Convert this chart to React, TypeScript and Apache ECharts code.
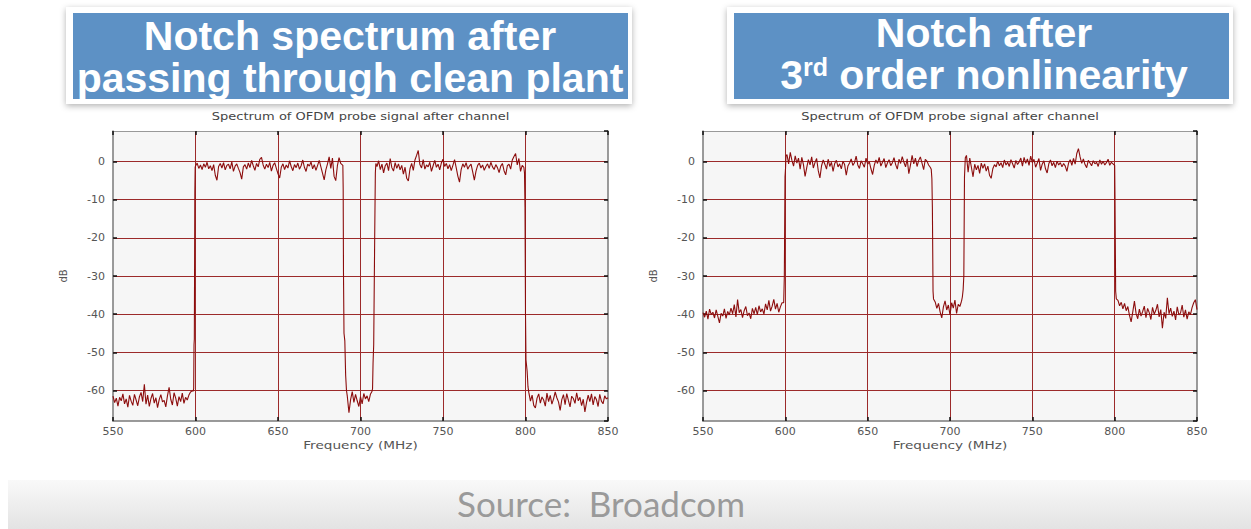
import React, { useEffect, useRef } from "react";
import * as echarts from "echarts";

// Axis ranges
const FREQ_MIN = 550;
const FREQ_MAX = 850;
const FREQ_STEP = 50;
const DB_MIN = -68;
const DB_MAX = 8;

const plotTitle = "Spectrum of OFDM probe signal after channel";
const xName = "Frequency (MHz)";
const yName = "dB";

// ---- Clean plant: measured dB at 1 MHz steps, with the filter edges as [MHz, dB] ----
const cleanLowStart = 550;
const cleanLowStop = [
  -61.5, -63.2, -62.0, -64.1, -61.8, -62.7, -60.9, -63.5, -62.2, -64.4,
  -61.3, -62.8, -63.9, -61.0, -62.5, -64.0, -61.7, -60.5, -62.9, -58.4,
  -63.6, -61.2, -64.2, -62.1, -60.8, -63.3, -61.9, -64.5, -62.4, -61.1,
  -63.0, -62.6, -64.3, -61.4, -59.2, -62.3, -63.8, -60.6, -62.0, -64.1,
  -61.6, -62.9, -60.7, -63.4, -61.8, -62.5, -61.2, -60.4, -60.1,
];
const cleanEdgeUpA: [number, number][] = [
  [598.6, -60.2], [598.9, -59.5], [599.1, -48], [599.3, -46.5], [599.6, -8], [599.8, -1.5],
];
const cleanBandAStart = 600;
const cleanBandA = [
  -1.2, -0.4, -1.8, -0.9, -2.1, -0.6, -1.5, -0.2, -1.9, -1.1,
  -2.4, -0.8, -3.6, -4.9, -1.3, -0.5, -1.7, -0.3, -2.2, -1.0,
  -0.7, -1.9, -0.1, -2.6, -1.2, -0.6, -1.8, -2.9, -4.6, -1.4,
  -0.8, -2.0, -0.4, -1.6, 0.3, -1.1, -2.3, -0.5, -1.4, 0.6,
  1.1, -0.9, -2.0, -0.7, -1.6, -0.2, -2.5, -1.0, -0.3, -1.8,
  -3.2, -4.3, -1.5, -0.6, -2.1, -0.9, -1.7, 0.2, -1.3, -2.4,
  -0.8, -1.6, -0.4, -2.0, -1.1, 0.4, -1.5, -2.6, -0.7, -1.2,
  -0.1, -1.9, -0.8, -2.3, -1.0, 0.3, -1.4, -3.1, -4.8, -2.2,
  -0.6, 1.2, -1.8, 0.9, -3.9, -5.0, -1.1, 1.0, -0.5,
];
const cleanEdgeDownA: [number, number][] = [
  [689.3, -1], [689.5, -7], [689.7, -30], [690.0, -45], [690.5, -47], [691.0, -56], [691.5, -60],
];
const cleanNotchStart = 692;
const cleanNotch = [
  -61.5, -65.8, -62.4, -60.3, -63.1, -61.0, -62.7, -64.2, -61.6, -63.5,
  -60.8, -62.2, -61.4, -62.9, -61.0, -60.2,
];
const cleanEdgeUpB: [number, number][] = [
  [707.3, -59.5], [707.6, -53], [708.0, -48], [708.6, -20], [709.0, -3], [709.3, -0.5],
];
const cleanBandBStart = 710;
const cleanBandB = [
  -1.3, 0.2, -2.1, -0.7, -3.0, -1.1, -0.4, -2.4, 0.8, -1.6,
  -2.5, -0.3, -1.8, -0.6, -2.2, -1.0, -3.3, -1.5, -4.4, -5.1,
  -1.9, -0.5, -2.3, 0.4, 1.6, 2.9, -0.8, -1.7, 0.5, -2.0,
  -0.9, -1.4, -0.2, -2.6, -1.1, 0.3, -1.5, -0.7, -2.2, -0.4,
  0.6, -1.3, -0.5, -1.9, -0.8, -2.4, -1.0, 0.5, -1.6, -3.8,
  -5.4, -2.1, -0.6, -1.5, -0.3, -2.0, -1.2, -0.7, -2.7, -4.9,
  -2.5, -1.0, -0.4, -1.7, -0.9, -2.3, -1.3, -0.6, -1.8, -0.2,
  -1.4, -2.1, -0.8, -1.6, -2.9, -1.2, -0.5, -2.4, -3.5, -1.1,
  -0.7, -2.0, 0.4, 1.3, 2.1, -0.9, 0.8, -2.6, -1.0,
];
const cleanEdgeDownB: [number, number][] = [
  [799.0, -1.5], [799.4, -3], [799.7, -12], [800.0, -40], [800.3, -52], [801.0, -55], [801.5, -59],
];
const cleanHighStart = 802;
const cleanHighStop = [
  -60.5, -62.8, -61.2, -63.9, -64.6, -62.0, -60.9, -63.3, -61.7, -62.5,
  -64.1, -60.7, -62.9, -61.3, -63.6, -62.2, -60.4, -61.9, -63.0, -65.2,
  -62.4, -61.1, -63.7, -60.8, -62.6, -64.3, -61.5, -62.1, -63.4, -60.6,
  -62.7, -61.8, -64.0, -62.3, -65.6, -63.1, -61.2, -62.9, -60.9, -63.8,
  -61.6, -62.4, -64.2, -61.0, -62.8, -63.5, -61.4, -62.2, -61.9,
];

// ---- After 3rd order nonlinearity ----
const nlLowStart = 550;
const nlLowStop = [
  -39.6, -40.8, -39.2, -41.3, -38.7, -40.1, -39.5, -41.0, -38.9, -40.6,
  -42.3, -39.8, -40.5, -38.6, -41.1, -39.3, -40.2, -38.4, -39.9, -37.5,
  -40.7, -36.2, -39.6, -38.8, -40.9, -39.1, -38.0, -40.4, -39.7, -41.2,
  -38.5, -39.9, -38.2, -40.1, -37.8, -39.4, -38.6, -40.0, -37.3, -38.9,
  -36.4, -39.2, -37.9, -36.1, -38.7, -37.2, -39.5, -38.1, -37.0,
];
const nlEdgeUpA: [number, number][] = [
  [599.0, -37], [599.4, -30], [599.8, -4], [600.1, -2], [600.4, 1.5],
];
const nlBandAStart = 601;
const nlBandA = [
  1.8, -0.6, 2.4, 0.3, -1.2, 1.5, -0.4, 0.9, -2.0, 1.1,
  -0.8, -3.9, -1.6, 0.5, -0.9, 1.2, -1.7, -0.3, 0.8, -2.4,
  -4.3, -1.1, 0.4, -0.7, -2.0, 0.6, -1.3, -0.2, -2.6, -0.5,
  0.3, -1.4, -0.6, -1.9, 0.1, -0.8, -3.6, -1.2, -0.4, 0.7,
  -1.0, -0.3, 1.4, -0.9, -1.8, 0.2, -0.6, -1.5, 0.9, -0.7,
  -0.1, -1.9, -3.4, -1.0, 0.4, -0.5, 1.1, -1.2, -0.2, 0.8,
  -1.6, -0.4, 0.5, -1.1, -0.3, 1.0, -0.8, -2.0, 0.6, -0.5,
  1.3, -0.2, -1.4, 0.7, -3.2, -0.9, 1.6, -0.6, 0.9, -1.3,
  0.3, 1.2, -0.4, -2.1, 0.6, 0.1, -0.9, -1.5,
];
const nlEdgeDownA: [number, number][] = [
  [688.6, -2], [689.0, -4.5], [689.3, -12], [689.7, -34], [690.0, -36],
];
const nlNotchStart = 691;
const nlNotch = [
  -36.8, -38.5, -37.2, -39.4, -41.0, -38.1, -36.5, -38.9, -37.6, -40.2,
  -37.0, -38.4, -36.3, -39.8, -37.4, -38.0, -36.6,
];
const nlEdgeUpB: [number, number][] = [
  [707.5, -35.5], [708.0, -33.5], [708.4, -30], [708.8, -4], [709.3, 1],
];
const nlBandBStart = 710;
const nlBandB = [
  1.6, -2.8, 0.9, -1.5, -4.0, -0.7, -2.2, -1.0, -3.1, -0.4,
  -1.8, -0.6, -2.5, -1.2, -3.6, -4.4, -1.9, -0.8, -1.4, 0.1,
  -1.1, -0.3, -1.6, 0.4, -0.9, -0.2, -1.3, 0.5, -0.6, -1.7,
  0.3, -0.8, -0.1, 0.9, -1.2, 1.1, -0.5, 0.7, -1.0, 1.4,
  -0.3, 0.6, -1.5, -0.4, 0.8, -2.3, -0.7, 0.2, -1.9, -3.0,
  -0.6, 0.4, -1.1, -0.2, -1.6, 0.1, -0.9, -0.3, -1.4, -0.5,
  -1.2, -2.6, -0.4, 0.5, -1.0, 0.8, -0.7, 2.1, 3.4, 1.2,
  -0.5, 0.7, -0.8, -1.6, 0.3, -0.4, -1.1, 0.2, -0.6, -0.2,
  -1.3, 0.4, -0.7, 0.1, -0.9, -0.3, 0.6, -1.0, -0.2, -0.6,
];
const nlEdgeDownB: [number, number][] = [
  [800.0, -1], [800.2, -9.5], [800.6, -34], [801.0, -36],
];
const nlHighStart = 802;
const nlHighStop = [
  -36.4, -37.8, -36.9, -38.6, -37.2, -39.1, -38.0, -40.3, -42.0, -39.4,
  -36.6, -39.8, -41.2, -38.7, -40.5, -39.3, -37.9, -40.9, -38.5, -39.6,
  -41.4, -38.2, -40.0, -39.0, -37.4, -40.7, -38.8, -43.7, -39.5, -41.1,
  -35.7, -39.9, -38.4, -40.6, -39.2, -41.5, -38.1, -40.2, -39.7, -37.6,
  -40.8, -38.9, -41.3, -39.4, -40.1, -38.3, -37.0, -36.2, -38.8,
];

// Pair a run of 1 MHz samples with their frequencies
const run = (start: number, values: number[]): [number, number][] =>
  values.map((v, i) => [start + i, v]);

const cleanPlantData: [number, number][] = [
  ...run(cleanLowStart, cleanLowStop),
  ...cleanEdgeUpA,
  ...run(cleanBandAStart, cleanBandA),
  ...cleanEdgeDownA,
  ...run(cleanNotchStart, cleanNotch),
  ...cleanEdgeUpB,
  ...run(cleanBandBStart, cleanBandB),
  ...cleanEdgeDownB,
  ...run(cleanHighStart, cleanHighStop),
];

const nonlinearData: [number, number][] = [
  ...run(nlLowStart, nlLowStop),
  ...nlEdgeUpA,
  ...run(nlBandAStart, nlBandA),
  ...nlEdgeDownA,
  ...run(nlNotchStart, nlNotch),
  ...nlEdgeUpB,
  ...run(nlBandBStart, nlBandB),
  ...nlEdgeDownB,
  ...run(nlHighStart, nlHighStop),
];

const W = 1251;
const H = 529;

const TRACE = "#8c0d0d";
const GRIDLINE = "#9c2a2a";
const FRAME = "#7a7a7a";
const TEXT = "#555";
const PLOT_FONT = "DejaVu Sans";
// the plot lettering is set wide
const WIDE = 1.24;

const plots = [
  { left: 113, width: 495, data: cleanPlantData },
  { left: 703, width: 494, data: nonlinearData },
];
const PLOT_TOP = 131;
const PLOT_H = 290;

function buildOption(): echarts.EChartsOption {
  const grid: any[] = [];
  const xAxis: any[] = [];
  const yAxis: any[] = [];
  const series: any[] = [];
  const plotTexts: any[] = [];

  plots.forEach((p, i) => {
    grid.push({
      left: p.left,
      top: PLOT_TOP,
      width: p.width,
      height: PLOT_H,
      show: true,
      backgroundColor: "#f6f6f6",
      borderWidth: 0,
    });

    const frameLine = { show: true, onZero: false, lineStyle: { color: FRAME, width: 1.5 } };
    const tick = { show: true, inside: true, length: 4, lineStyle: { color: "#111", width: 1.5 } };

    xAxis.push({
      gridIndex: i,
      type: "value",
      position: "bottom",
      min: FREQ_MIN,
      max: FREQ_MAX,
      interval: FREQ_STEP,
      axisLine: frameLine,
      axisTick: tick,
      axisLabel: { color: TEXT, fontSize: 11, fontFamily: PLOT_FONT, margin: 5 },
      splitLine: {
        show: true,
        showMinLine: false,
        showMaxLine: false,
        lineStyle: { color: GRIDLINE, width: 1 },
      },
    });
    xAxis.push({
      gridIndex: i,
      type: "value",
      position: "top",
      min: FREQ_MIN,
      max: FREQ_MAX,
      interval: FREQ_STEP,
      axisLine: { ...frameLine, lineStyle: { color: "#999", width: 1 } },
      axisTick: tick,
      axisLabel: { show: false },
      splitLine: { show: false },
    });

    yAxis.push({
      gridIndex: i,
      type: "value",
      position: "left",
      min: DB_MIN,
      max: DB_MAX,
      splitNumber: 8,
      axisLine: frameLine,
      axisTick: tick,
      axisLabel: {
        color: TEXT,
        fontSize: 11,
        fontFamily: PLOT_FONT,
        margin: 8,
        showMinLabel: false,
        showMaxLabel: false,
      },
      splitLine: {
        show: true,
        showMinLine: false,
        showMaxLine: false,
        lineStyle: { color: GRIDLINE, width: 1 },
      },
      name: yName,
      nameLocation: "middle",
      nameGap: 45,
      nameRotate: 90,
      nameTextStyle: { color: TEXT, fontSize: 10, fontFamily: PLOT_FONT },
    });
    yAxis.push({
      gridIndex: i,
      type: "value",
      position: "right",
      min: DB_MIN,
      max: DB_MAX,
      splitNumber: 8,
      axisLine: frameLine,
      axisTick: tick,
      axisLabel: { show: false },
      splitLine: { show: false },
    });

    series.push({
      type: "line",
      xAxisIndex: i * 2,
      yAxisIndex: i * 2,
      data: p.data,
      showSymbol: false,
      symbol: "none",
      lineStyle: { color: TRACE, width: 1.1 },
      z: 5,
    });

    const cx = p.left + p.width / 2;
    plotTexts.push(
      {
        type: "text",
        x: cx,
        y: 116,
        scaleX: WIDE,
        style: {
          text: plotTitle,
          fill: "#444",
          font: `10.5px '${PLOT_FONT}'`,
          align: "center",
          verticalAlign: "middle",
        },
      },
      {
        type: "text",
        x: cx,
        y: 445,
        scaleX: WIDE,
        style: {
          text: xName,
          fill: TEXT,
          font: `11px '${PLOT_FONT}'`,
          align: "center",
          verticalAlign: "middle",
        },
      },
    );
  });

  const headline = (frameX: number, frameW: number, lines: any[]) => ({
    type: "group",
    children: [
      {
        type: "rect",
        shape: { x: frameX, y: 7, width: frameW, height: 97 },
        style: {
          fill: "#ffffff",
          shadowBlur: 6,
          shadowOffsetY: 2,
          shadowColor: "rgba(0,0,0,0.3)",
        },
      },
      {
        type: "rect",
        shape: { x: frameX + 7, y: 13, width: frameW - 11, height: 86 },
        style: { fill: "#5d91c5" },
      },
      ...lines,
    ],
  });

  const bigText = (x: number, y: number, text: string, rich?: any) => ({
    type: "text",
    x,
    y,
    style: {
      text,
      fill: "#ffffff",
      font: "bold 41px 'Liberation Sans', Arial, sans-serif",
      align: "center",
      verticalAlign: "middle",
      rich,
    },
  });

  const graphic: any[] = [
    ...plotTexts,
    headline(66, 566, [
      bigText(350, 36, "Notch spectrum after"),
      bigText(350, 78, "passing through clean plant"),
    ]),
    headline(727, 506, [
      bigText(984, 33, "Notch after"),
      bigText(984, 75, "{a|3}{s|rd}{a| order nonlinearity}", {
        a: {
          fill: "#ffffff",
          font: "bold 41px 'Liberation Sans', Arial, sans-serif",
        },
        s: {
          fill: "#ffffff",
          font: "bold 25px 'Liberation Sans', Arial, sans-serif",
          padding: [0, 0, 16, 0],
        },
      }),
    ]),
    {
      type: "rect",
      shape: { x: 8, y: 480, width: W - 8, height: H - 480 },
      style: {
        fill: new echarts.graphic.LinearGradient(0, 0, 0, 1, [
          { offset: 0, color: "#f9f9f9" },
          { offset: 1, color: "#e3e3e3" },
        ]),
      },
    },
    {
      type: "text",
      x: 601,
      y: 503,
      style: {
        text: "Source:  Broadcom",
        fill: "#9a9a9a",
        font: "35px Lato, 'Open Sans', sans-serif",
        align: "center",
        verticalAlign: "middle",
      },
    },
  ];

  return {
    animation: false,
    backgroundColor: "#ffffff",
    grid,
    xAxis,
    yAxis,
    series,
    graphic,
  };
}

export default function App() {
  const ref = useRef<HTMLDivElement>(null);

  useEffect(() => {
    document.body.style.margin = "0";
    if (!ref.current) return;
    const chart = echarts.init(ref.current, undefined, { renderer: "svg" });
    chart.setOption(buildOption());
    return () => chart.dispose();
  }, []);

  return <div ref={ref} style={{ width: W, height: H }} />;
}
